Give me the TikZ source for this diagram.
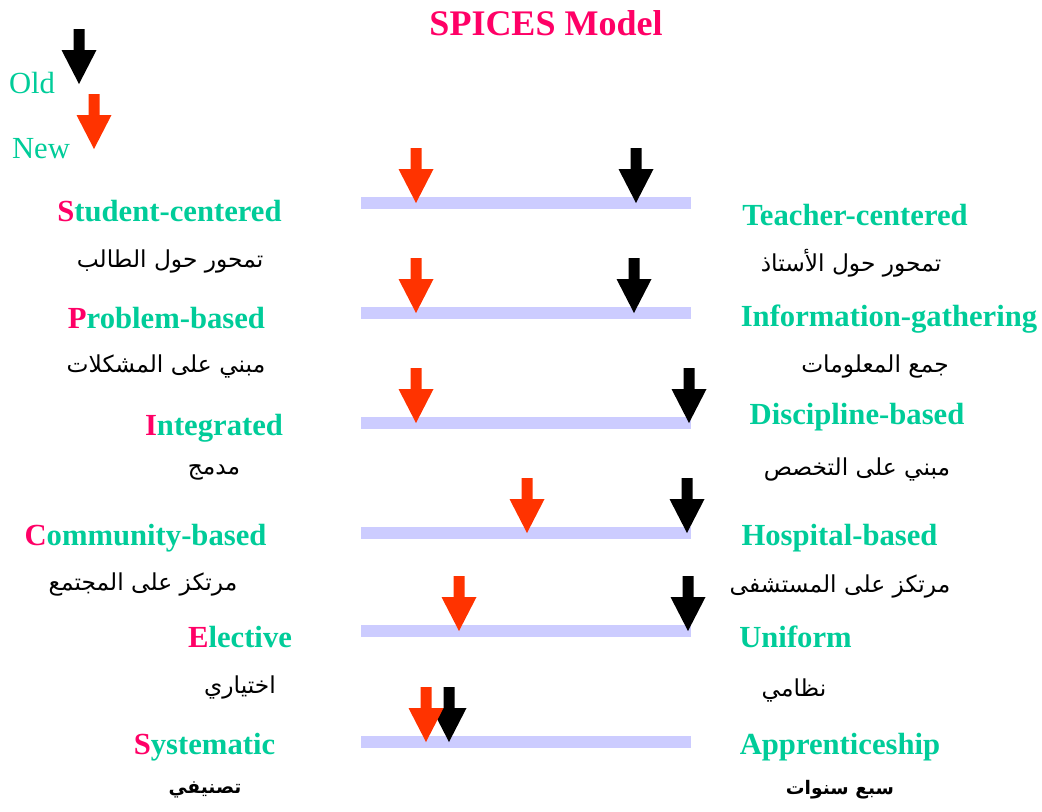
\documentclass[tikz,border=0pt]{standalone}
\usepackage{fontspec}
\setmainfont{Liberation Serif}
\newfontfamily\arabicfont[Script=Arabic]{DejaVu Sans}
\TeXXeTstate=1

\definecolor{spteal}{RGB}{0,204,153}
\definecolor{sppink}{RGB}{255,0,102}
\definecolor{spred}{RGB}{255,51,0}
\definecolor{spbar}{RGB}{204,204,255}

\newcommand{\initial}[1]{\textcolor{sppink}{#1}}

\tikzset{
  enlbl/.style={text=spteal, font=\fontsize{23}{26}\selectfont\bfseries, inner sep=0pt},
  arlbl/.style={text=black, font=\fontsize{17.5}{20}\selectfont\arabicfont, inner sep=0pt},
  arbold/.style={arlbl, font=\fontsize{14}{18}\selectfont\arabicfont\bfseries},
  keylbl/.style={text=spteal, font=\fontsize{23}{26}\selectfont, inner sep=0pt},
  downarrow/.pic={
    \fill (0,0) -- (-17.5,-34) -- (-5.5,-34) -- (-5.5,-55) -- (5.5,-55)
      -- (5.5,-34) -- (17.5,-34) -- cycle;
  }
}

\begin{document}
\begin{tikzpicture}[x=0.75pt, y=-0.75pt]
	\useasboundingbox (0,0) rectangle (1042,811);
	\node[text=sppink, font=\fontsize{27}{30}\selectfont\bfseries, inner sep=0pt] (title) at (546,23) {SPICES Model};

	% legend
	\node[keylbl] (old) at (32,83) {Old};
	\node[keylbl] (new) at (41,149) {New};
	\pic[black] at (79,84) {downarrow};
	\pic[spred] at (94,149) {downarrow};

	% scales: y of bar / new (red) / old (black)
	\foreach \y/\r/\b in {203/416/636, 313/416/634, 423/416/689, 533/527/687, 631/459/688, 742/426/449}
	{
		\fill[spbar] (361,\y-6) rectangle (691,\y+6);
		\pic[black] at (\b,\y) {downarrow};
		\pic[spred] at (\r,\y) {downarrow};
	}

	% left side
	\node[enlbl] (stud) at (169.5,211) {\initial{S}tudent-centered};
	\node[arlbl] (studar) at (170,261) {\beginR تمحور حول الطالب\endR};
	\node[enlbl] (prob) at (166.5,318) {\initial{P}roblem-based};
	\node[arlbl] (probar) at (166,366) {\beginR مبني على المشكلات\endR};
	\node[enlbl] (integ) at (214,428) {\initial{I}ntegrated};
	\node[arlbl] (integar) at (214,472) {\beginR مدمج\endR};
	\node[enlbl] (comm) at (145.5,538) {\initial{C}ommunity-based};
	\node[arlbl] (commar) at (143,584) {\beginR مرتكز على المجتمع\endR};
	\node[enlbl] (elec) at (240,637) {\initial{E}lective};
	\node[arlbl] (elecar) at (240,687) {\beginR اختياري\endR};
	\node[enlbl] (syst) at (204.5,747) {\initial{S}ystematic};
	\node[arbold] (systar) at (205,790) {\beginR تصنيفي\endR};

	% right side
	\node[enlbl] (teach) at (855,215) {Teacher-centered};
	\node[arlbl] (teachar) at (851,263) {\beginR تمحور حول الأستاذ\endR};
	\node[enlbl] (info) at (889,319) {Information-gathering};
	\node[arlbl] (infoar) at (875,366) {\beginR جمع المعلومات\endR};
	\node[enlbl] (disc) at (857,417) {Discipline-based};
	\node[arlbl] (discar) at (857,469) {\beginR مبني على التخصص\endR};
	\node[enlbl] (hosp) at (839.5,538) {Hospital-based};
	\node[arlbl] (hospar) at (840,586) {\beginR مرتكز على المستشفى\endR};
	\node[enlbl] (unif) at (795.5,637) {Uniform};
	\node[arlbl] (unifar) at (794,690) {\beginR نظامي\endR};
	\node[enlbl] (appr) at (840,747) {Apprenticeship};
	\node[arbold] (apprar) at (840,790) {\beginR سبع سنوات\endR};
\end{tikzpicture}
\end{document}
